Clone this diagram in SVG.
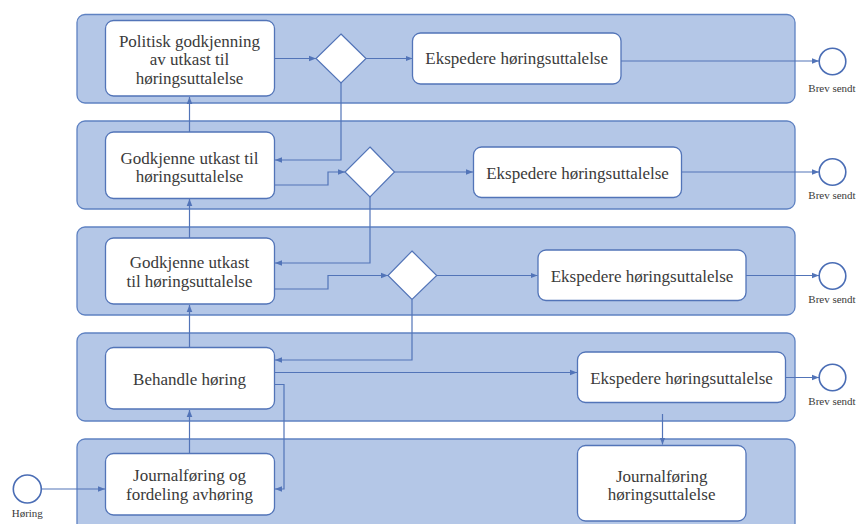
<svg xmlns="http://www.w3.org/2000/svg" width="857" height="524" viewBox="0 0 857 524">
  <style>
    .lane { fill: #b4c7e7; stroke: #5f82c2; stroke-width: 1.3; }
    .task { fill: #ffffff; stroke: #5274b8; stroke-width: 1.3; }
    .gate { fill: #ffffff; stroke: #5274b8; stroke-width: 1.2; }
    .evt { fill: #ffffff; stroke: #4a6db5; stroke-width: 1.6; }
    .lbl { font-family: "Liberation Serif", "Times New Roman", serif; font-size: 17px; fill: #3a3a3a; text-anchor: middle; }
    .small { font-family: "Liberation Serif", "Times New Roman", serif; font-size: 11px; fill: #3a3a3a; text-anchor: middle; }
    .flow { fill: none; stroke: #5274b8; stroke-width: 1.2; marker-end: url(#arr); }
  </style>
  <defs>
    <marker id="arr" viewBox="0 0 8 8" refX="8" refY="4" markerWidth="7" markerHeight="7" markerUnits="userSpaceOnUse" orient="auto">
      <path d="M0,0.8 L8,4 L0,7.2 Z" fill="#5274b8"/>
    </marker>
  </defs>

  <!-- swimlanes -->
  <g id="lanes">
    <rect class="lane" x="77" y="14.5" width="718" height="88.5" rx="8"/>
    <rect class="lane" x="77" y="121" width="718" height="88" rx="8"/>
    <rect class="lane" x="77" y="227" width="718" height="88" rx="8"/>
    <rect class="lane" x="77" y="333" width="718" height="88" rx="8"/>
    <rect class="lane" x="77" y="439" width="718" height="100" rx="8"/>
  </g>

  <!-- connectors -->
  <g id="connectors">
    <path class="flow" d="M274,58.5 H316"/>
    <path class="flow" d="M366,58.5 H412.5"/>
    <path class="flow" d="M621,61 H819"/>
    <path class="flow" d="M341,83 V160 H275"/>
    <path class="flow" d="M189.5,132 V97"/>
    <path class="flow" d="M274,185 H328 V172 H345"/>
    <path class="flow" d="M394,172 H473"/>
    <path class="flow" d="M681,172 H819"/>
    <path class="flow" d="M370,197 V263 H275"/>
    <path class="flow" d="M189.5,238 V199"/>
    <path class="flow" d="M274,289 H328 V275.5 H388"/>
    <path class="flow" d="M437,275.5 H537.5"/>
    <path class="flow" d="M746,275.5 H819"/>
    <path class="flow" d="M412,299.5 V360 H275"/>
    <path class="flow" d="M189.5,347 V305"/>
    <path class="flow" d="M274,372.5 H577"/>
    <path class="flow" d="M274,384.5 H284 V489 H275"/>
    <path class="flow" d="M786,377.5 H819"/>
    <path class="flow" d="M662.5,414 V444.5"/>
    <path class="flow" d="M189.5,453 V410"/>
    <path class="flow" d="M41.5,489 H105"/>
  </g>

  <!-- lane 1 -->
  <g id="politisk-godkjenning">
    <rect class="task" x="105.5" y="20.5" width="169" height="75.5" rx="8"/>
    <text class="lbl" x="189.5" y="46.5">Politisk godkjenning</text>
    <text class="lbl" x="189.5" y="65">av utkast til</text>
    <text class="lbl" x="189.5" y="84">høringsuttalelse</text>
  </g>
  <g id="gateway-1">
    <polygon class="gate" points="341,34 366,58.5 341,83 316,58.5"/>
  </g>
  <g id="ekspedere-1">
    <rect class="task" x="412.5" y="33" width="208.5" height="51" rx="8"/>
    <text class="lbl" x="516.7" y="64">Ekspedere høringsuttalelse</text>
  </g>
  <g id="brev-sendt-1">
    <circle class="evt" cx="832.5" cy="61.5" r="13.3"/>
    <text class="small" x="832" y="92">Brev sendt</text>
  </g>

  <!-- lane 2 -->
  <g id="godkjenne-utkast-2">
    <rect class="task" x="105.5" y="132" width="169" height="66.5" rx="8"/>
    <text class="lbl" x="189.5" y="163.5">Godkjenne utkast til</text>
    <text class="lbl" x="189.5" y="182">høringsuttalelse</text>
  </g>
  <g id="gateway-2">
    <polygon class="gate" points="370,147 394.5,172 370,197 345,172"/>
  </g>
  <g id="ekspedere-2">
    <rect class="task" x="473.5" y="147" width="208" height="50.5" rx="8"/>
    <text class="lbl" x="577.5" y="179">Ekspedere høringsuttalelse</text>
  </g>
  <g id="brev-sendt-2">
    <circle class="evt" cx="832.5" cy="172" r="13.3"/>
    <text class="small" x="832" y="198.5">Brev sendt</text>
  </g>

  <!-- lane 3 -->
  <g id="godkjenne-utkast-3">
    <rect class="task" x="105.5" y="238" width="169" height="66" rx="8"/>
    <text class="lbl" x="189.5" y="267.5">Godkjenne utkast</text>
    <text class="lbl" x="189.5" y="286.5">til høringsuttalelse</text>
  </g>
  <g id="gateway-3">
    <polygon class="gate" points="412,251 436.7,275.5 412,299.5 388,275.5"/>
  </g>
  <g id="ekspedere-3">
    <rect class="task" x="538" y="250" width="208" height="50.5" rx="8"/>
    <text class="lbl" x="642" y="282">Ekspedere høringsuttalelse</text>
  </g>
  <g id="brev-sendt-3">
    <circle class="evt" cx="832.5" cy="276" r="13.3"/>
    <text class="small" x="832" y="303">Brev sendt</text>
  </g>

  <!-- lane 4 -->
  <g id="behandle-horing">
    <rect class="task" x="105.5" y="347.5" width="169" height="61.5" rx="8"/>
    <text class="lbl" x="189.5" y="385">Behandle høring</text>
  </g>
  <g id="ekspedere-4">
    <rect class="task" x="577.5" y="352" width="208" height="50.5" rx="8"/>
    <text class="lbl" x="681.5" y="383.5">Ekspedere høringsuttalelse</text>
  </g>
  <g id="brev-sendt-4">
    <circle class="evt" cx="832.5" cy="377.5" r="13.3"/>
    <text class="small" x="832" y="405">Brev sendt</text>
  </g>

  <!-- lane 5 -->
  <g id="journalforing-fordeling">
    <rect class="task" x="105.5" y="453.5" width="169" height="61.5" rx="8"/>
    <text class="lbl" x="189.5" y="481">Journalføring og</text>
    <text class="lbl" x="189.5" y="500">fordeling avhøring</text>
  </g>
  <g id="journalforing-uttalelse">
    <rect class="task" x="577.5" y="445.5" width="168.5" height="75.5" rx="8"/>
    <text class="lbl" x="661.7" y="481.5">Journalføring</text>
    <text class="lbl" x="661.7" y="499.5">høringsuttalelse</text>
  </g>
  <g id="horing-start">
    <circle class="evt" cx="27.3" cy="489" r="14"/>
    <text class="small" x="27.3" y="517">Høring</text>
  </g>
</svg>
